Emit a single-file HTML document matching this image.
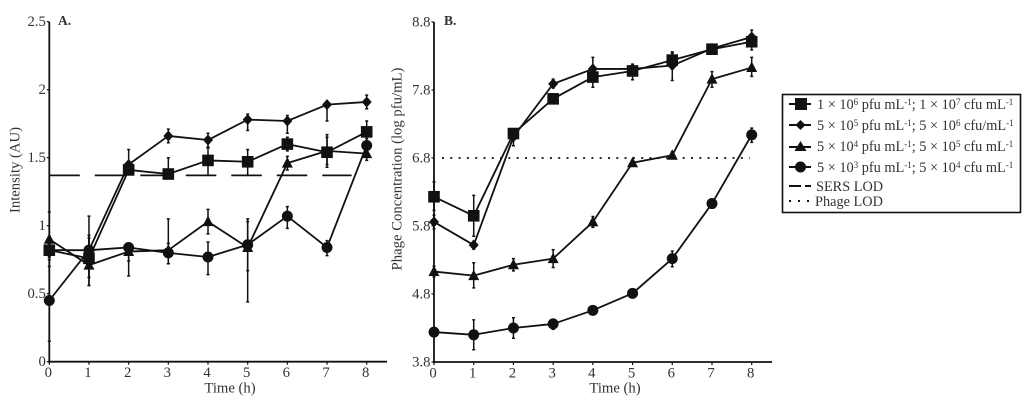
<!DOCTYPE html>
<html lang="en">
<head>
<meta charset="utf-8">
<title>SERS intensity and phage concentration over time</title>
<style>
html,body{margin:0;padding:0;background:#fff;}
body{width:1024px;height:402px;overflow:hidden;}
svg{display:block;font-family:"Liberation Serif",serif;fill:#333;filter:blur(0.35px);}
</style>
</head>
<body>
<svg id="figure" width="1024" height="402" viewBox="0 0 1024 402" xmlns="http://www.w3.org/2000/svg">
  <g id="chart-a"></g>
  <g id="chart-b"></g>
  <g id="legend">
    <rect x="782.5" y="94.5" width="238" height="118" fill="#fff" stroke="#111" stroke-width="1.6"/>
    <g>
      <line x1="789" x2="811" y1="104" y2="104" stroke="#111" stroke-width="2"/>
      <rect x="795" y="98" width="12" height="12" fill="#111"/>
      <text x="817" y="108.800" font-size="14.300">1 × 10<tspan font-size="9" dy="-4">6</tspan><tspan dy="4"> pfu mL</tspan><tspan font-size="9" dy="-4">-1</tspan><tspan dy="4">; 1 × 10</tspan><tspan font-size="9" dy="-4">7</tspan><tspan dy="4"> cfu mL</tspan><tspan font-size="9" dy="-4">-1</tspan></text>
    </g>
    <g>
      <line x1="789" x2="811" y1="125" y2="125" stroke="#111" stroke-width="2"/>
      <polygon points="800.500,120 805.500,125 800.500,130 795.500,125" fill="#111"/>
      <text x="817" y="129.800" font-size="14.300">5 × 10<tspan font-size="9" dy="-4">5</tspan><tspan dy="4"> pfu mL</tspan><tspan font-size="9" dy="-4">-1</tspan><tspan dy="4">; 5 × 10</tspan><tspan font-size="9" dy="-4">6</tspan><tspan dy="4"> cfu/mL</tspan><tspan font-size="9" dy="-4">-1</tspan></text>
    </g>
    <g>
      <line x1="789" x2="811" y1="147" y2="147" stroke="#111" stroke-width="2"/>
      <polygon points="800.500,141 806.500,151 794.500,151" fill="#111"/>
      <text x="817" y="150.800" font-size="14.300">5 × 10<tspan font-size="9" dy="-4">4</tspan><tspan dy="4"> pfu mL</tspan><tspan font-size="9" dy="-4">-1</tspan><tspan dy="4">; 5 × 10</tspan><tspan font-size="9" dy="-4">5</tspan><tspan dy="4"> cfu mL</tspan><tspan font-size="9" dy="-4">-1</tspan></text>
    </g>
    <g>
      <line x1="789" x2="811" y1="167" y2="167" stroke="#111" stroke-width="2"/>
      <circle cx="800.500" cy="167" r="5.500" fill="#111"/>
      <text x="817" y="171.800" font-size="14.300">5 × 10<tspan font-size="9" dy="-4">3</tspan><tspan dy="4"> pfu mL</tspan><tspan font-size="9" dy="-4">-1</tspan><tspan dy="4">; 5 × 10</tspan><tspan font-size="9" dy="-4">4</tspan><tspan dy="4"> cfu mL</tspan><tspan font-size="9" dy="-4">-1</tspan></text>
    </g>
    <g>
      <line x1="789" x2="811" y1="186" y2="186" stroke="#111" stroke-width="2" stroke-dasharray="12 4"/>
      <text x="816" y="190.800" font-size="14.300">SERS LOD</text>
    </g>
    <g>
      <line x1="789" x2="811" y1="201" y2="201" stroke="#111" stroke-width="2" stroke-dasharray="2 7"/>
      <text x="815" y="205.800" font-size="14.300">Phage LOD</text>
    </g>
  </g>
</svg>
<script>
const hours = [0, 1, 2, 3, 4, 5, 6, 7, 8];

const aTicks = [0, 0.5, 1, 1.5, 2, 2.5];
const aSquare = [0.82, 0.76, 1.41, 1.38, 1.48, 1.47, 1.60, 1.54, 1.69];
const aSquareUp = [0.05, 0.31, 0.03, 0.12, 0.09, 0.09, 0.05, 0.13, 0.08];
const aSquareDown = [0.05, 0.2, 0.03, 0.03, 0.11, 0.1, 0.05, 0.11, 0.08];
const aDiamond = [0.82, 0.82, 1.45, 1.66, 1.63, 1.78, 1.77, 1.89, 1.91];
const aDiamondUp = [0.05, 0.11, 0.11, 0.05, 0.05, 0.04, 0.04, 0.02, 0.05];
const aDiamondDown = [0.05, 0.2, 0.04, 0.05, 0.05, 0.08, 0.09, 0.12, 0.05];
const aTriangle = [0.90, 0.71, 0.81, 0.82, 1.03, 0.84, 1.46, 1.55, 1.53];
const aTriangleUp = [0.2, 0.2, 0.03, 0.23, 0.09, 0.21, 0.05, 0.1, 0.05];
const aTriangleDown = [0.2, 0.15, 0.18, 0.1, 0.09, 0.4, 0.05, 0.1, 0.05];
const aCircle = [0.45, 0.82, 0.84, 0.80, 0.77, 0.86, 1.07, 0.84, 1.59];
const aCircleUp = [0.3, 0.11, 0.03, 0.07, 0.11, 0.17, 0.07, 0.05, 0.05];
const aCircleDown = [0.3, 0.2, 0.1, 0.08, 0.13, 0.19, 0.09, 0.06, 0.05];
const aLod = [1.37];
const aLodEndHour = [7.62];

const bTicks = [3.8, 4.8, 5.8, 6.8, 7.8, 8.8];
const bSquare = [6.23, 5.95, 7.16, 7.67, 7.99, 8.08, 8.24, 8.40, 8.51];
const bSquareUp = [0.22, 0.3, 0.05, 0.05, 0.06, 0.06, 0.1, 0.05, 0.08];
const bSquareDown = [0.2, 0.3, 0.05, 0.06, 0.15, 0.13, 0.1, 0.05, 0.12];
const bDiamond = [5.86, 5.52, 7.11, 7.89, 8.11, 8.11, 8.16, 8.41, 8.58];
const bDiamondUp = [0.1, 0.05, 0.05, 0.07, 0.17, 0.07, 0.2, 0.05, 0.1];
const bDiamondDown = [0.1, 0.06, 0.13, 0.06, 0.1, 0.1, 0.22, 0.05, 0.1];
const bTriangle = [5.13, 5.07, 5.23, 5.32, 5.86, 6.73, 6.84, 7.96, 8.13];
const bTriangleUp = [0.08, 0.19, 0.09, 0.13, 0.08, 0.03, 0.05, 0.11, 0.15];
const bTriangleDown = [0.08, 0.18, 0.09, 0.13, 0.08, 0.03, 0.05, 0.12, 0.13];
const bCircle = [4.24, 4.20, 4.30, 4.36, 4.56, 4.81, 5.32, 6.13, 7.14];
const bCircleUp = [0.05, 0.22, 0.15, 0.07, 0.05, 0.05, 0.11, 0.05, 0.1];
const bCircleDown = [0.05, 0.22, 0.15, 0.08, 0.05, 0.05, 0.12, 0.05, 0.11];
const bLod = [6.8];
const bLodEndHour = [7.95];

const NS = 'http://www.w3.org/2000/svg';
const INK = '#111';

function make(parent, tag, props, text) {
  const el = document.createElementNS(NS, tag);
  for (const key in props) el.setAttribute(key, props[key]);
  if (text !== undefined) el.textContent = text;
  parent.appendChild(el);
  return el;
}

function drawMarker(parent, shape, cx, cy) {
  let el;
  if (shape === 'square') {
    el = make(parent, 'rect', {x: cx - 5.8, y: cy - 5.8, width: 11.6, height: 11.6, fill: INK});
  } else if (shape === 'diamond') {
    el = make(parent, 'polygon', {points: `${cx},${cy - 5.5} ${cx + 5},${cy} ${cx},${cy + 5.5} ${cx - 5},${cy}`, fill: INK});
  } else if (shape === 'triangle') {
    el = make(parent, 'polygon', {points: `${cx},${cy - 6} ${cx + 5.5},${cy + 4.5} ${cx - 5.5},${cy + 4.5}`, fill: INK});
  } else {
    el = make(parent, 'circle', {cx: cx, cy: cy, r: 5.5, fill: INK});
  }
  
  
}

function drawSeries(parent, shape, values, up, down, xScale, yScale) {
  const group = make(parent, 'g', {});
  
  
  values.forEach((v, i) => {
    const x = xScale(hours[i]);
    const top = yScale(v + up[i]);
    const bottom = yScale(v - down[i]);
    const err = make(group, 'path', {
      d: `M${x} ${top}V${bottom}M${x - 1.5} ${top}h3M${x - 1.5} ${bottom}h3`,
      stroke: INK, 'stroke-width': 1.5, fill: 'none'
    });
    
    
  });
  const line = make(group, 'polyline', {
    points: values.map((v, i) => `${xScale(hours[i])},${yScale(v)}`).join(' '),
    fill: 'none', stroke: INK, 'stroke-width': 1.8, 'stroke-linejoin': 'round'
  });
  
  
  values.forEach((v, i) => drawMarker(group, shape, xScale(hours[i]), yScale(v)));
}

function drawAxes(parent, cfg) {
  const {xScale, yScale, ticks, x0, yBottom, yTop, xEnd} = cfg;
  const yAxis = make(parent, 'line', {x1: x0, x2: x0, y1: yTop, y2: yBottom + 1, stroke: INK, 'stroke-width': 1.8});
  
  
  const xAxis = make(parent, 'line', {x1: x0 - 1, x2: xEnd, y1: yBottom, y2: yBottom, stroke: INK, 'stroke-width': 1.8});
  
  
  ticks.forEach(t => {
    const y = yScale(t);
    make(parent, 'line', {x1: x0 - 2.5, x2: x0, y1: y, y2: y, stroke: INK, 'stroke-width': 1.2});
    const label = make(parent, 'text', {x: x0 - 3.5, y: y + 4.5, 'text-anchor': 'end', 'font-size': cfg.tickSize}, cfg.tickText(t));
    
    
  });
  hours.forEach(h => {
    const x = xScale(h);
    make(parent, 'line', {x1: x, x2: x, y1: yBottom, y2: yBottom + 3, stroke: INK, 'stroke-width': 1.2});
    const label = make(parent, 'text', {x: x - 1, y: yBottom + 15.5, 'text-anchor': 'middle', 'font-size': 14.7}, String(h));
    
    
  });
  const xTitle = make(parent, 'text', {x: cfg.xTitleX, y: 392.5, 'text-anchor': 'middle', 'font-size': 14.7}, 'Time (h)');
  
  
  const yTitle = make(parent, 'text', {
    transform: `translate(${cfg.yTitleX} ${cfg.yTitleY}) rotate(-90)`,
    'text-anchor': 'middle', 'font-size': 14.7
  }, cfg.yTitle);
  
  
  const panel = make(parent, 'text', {x: cfg.panelX, y: 25, 'font-size': 13.5, 'font-weight': 'bold'}, cfg.panel);
  
  
}

const chartA = document.getElementById('chart-a');
const ax = h => 49.3 + h * (366.7 - 49.3) / 8;
const ay = v => 361.7 - v * 136;
drawAxes(chartA, {
  xScale: ax, yScale: ay, ticks: aTicks, tickText: t => String(t), x0: 49.3, yBottom: 361.7, yTop: 21.7, xEnd: 387,
  tickSize: 14.7, xTitleX: 230, yTitle: 'Intensity (AU)', yTitleX: 19.5, yTitleY: 170, panel: 'A.', panelX: 58
});
const aLodLine = make(chartA, 'line', {
  x1: ax(0), x2: ax(aLodEndHour[0]), y1: ay(aLod[0]), y2: ay(aLod[0]),
  stroke: INK, 'stroke-width': 1.8, 'stroke-dasharray': '30.5 15'
});


drawSeries(chartA, 'diamond', aDiamond, aDiamondUp, aDiamondDown, ax, ay);
drawSeries(chartA, 'square', aSquare, aSquareUp, aSquareDown, ax, ay);
drawSeries(chartA, 'triangle', aTriangle, aTriangleUp, aTriangleDown, ax, ay);
drawSeries(chartA, 'circle', aCircle, aCircleUp, aCircleDown, ax, ay);

const chartB = document.getElementById('chart-b');
const bx = h => 434 + h * (751.7 - 434) / 8;
const by = v => 362 - (v - 3.8) * 68;
drawAxes(chartB, {
  xScale: bx, yScale: by, ticks: bTicks, tickText: t => t.toFixed(1), x0: 434, yBottom: 362, yTop: 22, xEnd: 772,
  tickSize: 14.7, xTitleX: 615, yTitle: 'Phage Concentration (log pfu/mL)', yTitleX: 401.5, yTitleY: 169, panel: 'B.', panelX: 444
});
const bLodLine = make(chartB, 'line', {
  x1: bx(0) + 8, x2: bx(bLodEndHour[0]), y1: by(bLod[0]), y2: by(bLod[0]),
  stroke: INK, 'stroke-width': 1.8, 'stroke-dasharray': '2 6.3'
});


drawSeries(chartB, 'diamond', bDiamond, bDiamondUp, bDiamondDown, bx, by);
drawSeries(chartB, 'square', bSquare, bSquareUp, bSquareDown, bx, by);
drawSeries(chartB, 'triangle', bTriangle, bTriangleUp, bTriangleDown, bx, by);
drawSeries(chartB, 'circle', bCircle, bCircleUp, bCircleDown, bx, by);
</script>
</body>
</html>
